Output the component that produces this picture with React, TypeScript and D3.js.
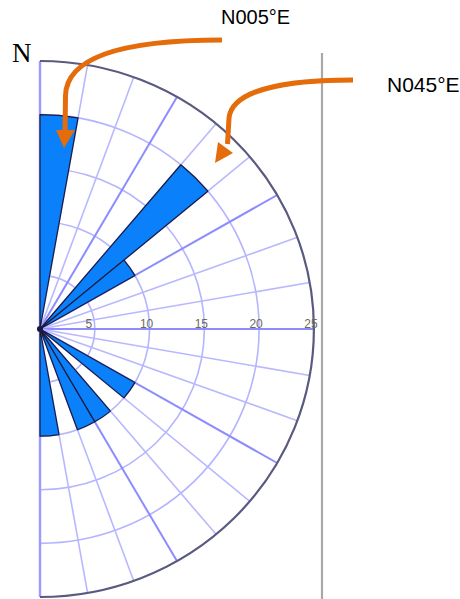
import React from "react";
import * as d3 from "d3";

// 10° bins from N000 to N180 (azimuth, clockwise from north)
const binStarts = [0, 10, 20, 30, 40, 50, 60, 70, 80, 90, 100, 110, 120, 130, 140, 150, 160, 170];
const binCounts = [20, 0, 0, 0, 20, 10, 0, 0, 0, 0, 0, 0, 10, 0, 10, 10, 0, 10];
const ringValues = [5, 10, 15, 20];
const ringLabels = ["5", "10", "15", "20", "25"];
const ringLabelValues = [5, 10, 15, 20, 25];
const spokeAngles = [10, 20, 30, 40, 50, 60, 70, 80, 90, 100, 110, 120, 130, 140, 150, 160, 170];
const annotations = ["N005°E", "N045°E"];

const W = 460;
const H = 599;
const cx = 40;
const cy = 329;
const sx = 1.022; // slight horizontal stretch of the original figure
const maxValue = 25;

export default function App() {
  const r = d3.scaleLinear().domain([0, maxValue]).range([0, 268]);
  const rad = (deg: number) => (deg * Math.PI) / 180;

  const petalArc = d3
    .arc<any>()
    .innerRadius(0)
    .outerRadius((d: any) => r(d.value))
    .startAngle((d: any) => rad(d.start))
    .endAngle((d: any) => rad(d.start + 10));

  const ringArc = d3
    .arc<any>()
    .innerRadius((d: any) => r(d))
    .outerRadius((d: any) => r(d))
    .startAngle(0)
    .endAngle(Math.PI);

  const petals = binStarts
    .map((s, i) => ({ start: s, value: binCounts[i] }))
    .filter((d) => d.value > 0);

  return (
    <div style={{ position: "absolute", left: 0, top: 0 }}>
      <svg width={W} height={H} viewBox={`0 0 ${W} ${H}`} style={{ display: "block", background: "#fff" }}>
        {/* vertical gray reference line */}
        <line x1={322} x2={322} y1={53} y2={H} stroke="#a8a8a8" strokeWidth={2.2} />

        <g transform={`translate(${cx},${cy}) scale(${sx},1)`}>
          {/* rings */}
          {ringValues.map((v) => (
            <path
              key={"ring" + v}
              d={ringArc(v) as string}
              fill="none"
              stroke="#b4b4ff"
              strokeWidth={1.6}
              vectorEffect="non-scaling-stroke"
            />
          ))}
          {/* spokes */}
          {spokeAngles.map((a) => {
            const major = a % 30 === 0;
            const R = r(maxValue);
            return (
              <line
                key={"sp" + a}
                x1={0}
                y1={0}
                x2={R * Math.sin(rad(a))}
                y2={-R * Math.cos(rad(a))}
                stroke={major ? "#8c8cff" : "#b8b8ff"}
                strokeWidth={major ? 2 : 1.6}
                vectorEffect="non-scaling-stroke"
              />
            );
          })}
          {/* N-S axis */}
          <line
            x1={0}
            x2={0}
            y1={-r(maxValue)}
            y2={r(maxValue)}
            stroke="#9a9aff"
            strokeWidth={2.4}
            vectorEffect="non-scaling-stroke"
          />
          {/* petals */}
          {petals.map((d) => (
            <path
              key={"p" + d.start}
              d={petalArc(d) as string}
              fill="#0a80fa"
              stroke="#1a1a40"
              strokeWidth={1.2}
              strokeLinejoin="round"
              vectorEffect="non-scaling-stroke"
            />
          ))}
          <circle r={3} fill="#1a1a40" />
          {/* outer ring */}
          <path
            d={ringArc(maxValue) as string}
            fill="none"
            stroke="#5a5a80"
            strokeWidth={2.2}
            vectorEffect="non-scaling-stroke"
          />
        </g>

        {/* ring labels */}
        {ringLabelValues.map((v, i) => (
          <text
            key={"rl" + v}
            x={cx + sx * r(v) - (v < 10 ? 6 : 3)}
            y={cy - 1.5}
            textAnchor="middle"
            fontFamily="'Liberation Sans', Arial, sans-serif"
            fontSize={12}
            fill="#6a6a58"
          >
            {ringLabels[i]}
          </text>
        ))}

        {/* N label */}
        <text x={12} y={62} fontFamily="'Liberation Serif', 'Times New Roman', serif" fontSize={27} fill="#000">
          N
        </text>

        {/* annotations */}
        <text x={221} y={24} fontFamily="'Liberation Sans', Arial, sans-serif" fontSize={20} fill="#000">
          {annotations[0]}
        </text>
        <text x={387} y={92} fontFamily="'Liberation Sans', Arial, sans-serif" fontSize={21} fill="#000">
          {annotations[1]}
        </text>

        {/* orange arrows */}
        <path
          d="M222,40 C120,40 66,58 65.5,96 L65,132"
          fill="none"
          stroke="#e46c0a"
          strokeWidth={5}
        />
        <polygon points="56,130 75,130 64,148" fill="#e46c0a" />
        <path
          d="M353,80 C285,80 232,90 229,118 L227.5,144"
          fill="none"
          stroke="#e46c0a"
          strokeWidth={5}
        />
        <polygon points="218,142 233,153 215,163" fill="#e46c0a" />
      </svg>
    </div>
  );
}
